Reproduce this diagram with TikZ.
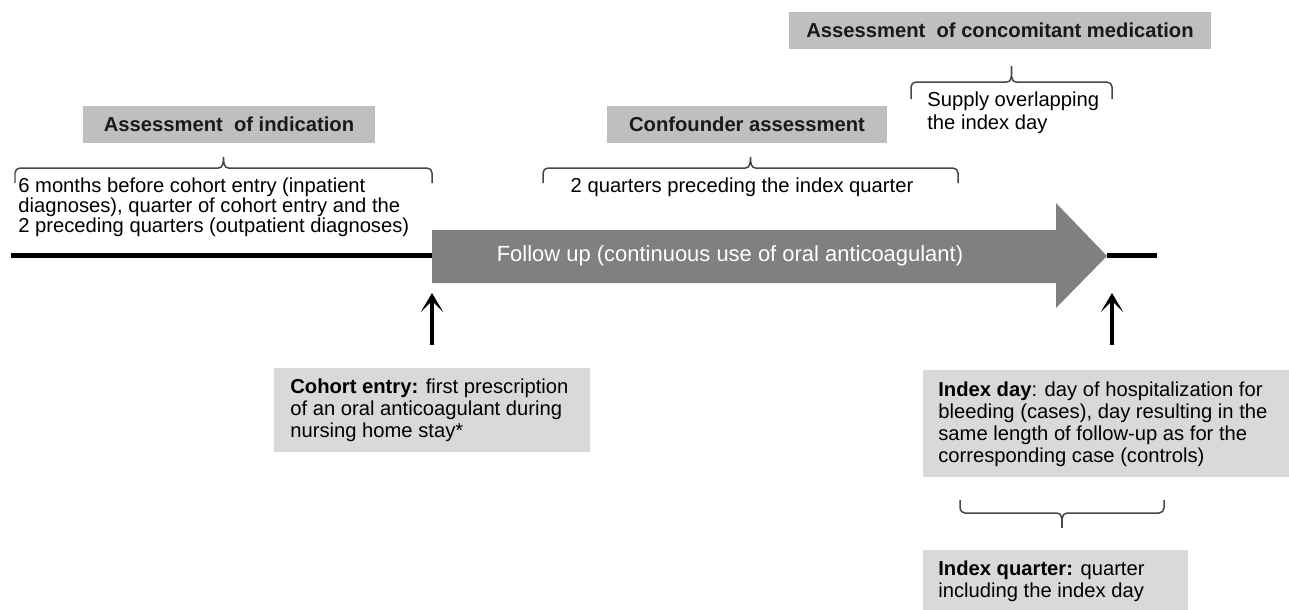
\documentclass[tikz,border=0pt]{standalone}
\usepackage{fontspec}
\setmainfont{Liberation Sans}
\usetikzlibrary{arrows.meta}

\definecolor{headgray}{RGB}{191,191,191}
\definecolor{notegray}{RGB}{217,217,217}
\definecolor{arrowgray}{RGB}{128,128,128}
\definecolor{bracegray}{RGB}{70,70,70}

\tikzset{
  every node/.style={font=\fontsize{11.5}{12.5}\selectfont},
  headbox/.style={fill=headgray, text=black!90, minimum height=0.74cm,
    font=\bfseries\fontsize{11.5}{12.5}\selectfont},
  notebox/.style={fill=notegray, anchor=north west, inner sep=0pt},
  plaintext/.style={align=left, inner sep=0pt},
  timeline/.style={line width=0.1cm, black},
  uparrow/.style={-{Stealth[length=11pt,width=13pt,inset=6.5pt]}, line width=0.08cm},
  % curly bracket: width, bar height, tip height
  pics/curly/.style n args={3}{code={
    \draw[bracegray, line width=0.85pt] (0,0) -- (0,{#2-5}) to[out=90,in=180] (5,#2)
      -- ({#1/2-5},#2) to[out=0,in=-90] ({#1/2},#3) to[out=-90,in=180] ({#1/2+5},#2)
      -- ({#1-5},#2) to[out=0,in=90] (#1,{#2-5}) -- (#1,0);
  }},
}

\begin{document}
\begin{tikzpicture}[x=0.02cm, y=0.02cm]
      \useasboundingbox (0,0) rectangle (1289,-609);

      % time line and follow-up arrow
      \draw[timeline] (11,-255) -- (432,-255);
      \draw[timeline] (1107,-255) -- (1157,-255);
      \fill[arrowgray] (432,-230) -- (1056,-230) -- (1056,-203) -- (1107,-256)
                       -- (1056,-308) -- (1056,-283) -- (432,-283) -- cycle;
      \node[text=white, font=\fontsize{12.5}{14}\selectfont] (followup) at (730,-256)
            {Follow up (continuous use of oral anticoagulant)};

      % assessment windows
      \node[headbox, minimum width=5.84cm] (indication) at (229,-124) {Assessment\ \ of indication};
      \node[headbox, minimum width=5.62cm] (confounder) at (747,-124) {Confounder assessment};
      \node[headbox, minimum width=8.44cm] (concomitant) at (1000,-30) {Assessment\ \ of concomitant medication};

      \coordinate (indL) at (15,-183);
      \coordinate (conL) at (543,-183);
      \coordinate (medL) at (911,-99);
      \pic at (indL) {curly={417}{15}{26}};
      \pic at (conL) {curly={415}{15}{26}};
      \pic at (medL) {curly={201}{17}{33}};

      \node[plaintext, anchor=west, font=\fontsize{11.5}{11.4}\selectfont] (indtext) at (18,-207)
            {6 months before cohort entry (inpatient\\diagnoses), quarter of cohort entry and the\\2 preceding quarters (outpatient diagnoses)};
      \node[plaintext] (context) at (742,-187) {2 quarters preceding the index quarter};
      \node[plaintext, anchor=west, font=\fontsize{11.5}{13}\selectfont] (medtext) at (927,-113)
            {Supply overlapping\\the index day};

      % cohort entry and index day
      \coordinate (entrytip) at (432,-293);  \coordinate (entryfoot) at (432,-345);
      \coordinate (indextip) at (1112,-293); \coordinate (indexfoot) at (1112,-345);
      \draw[uparrow] (entryfoot) -- (entrytip);
      \draw[uparrow] (indexfoot) -- (indextip);

      \node[notebox, minimum width=6.32cm, minimum height=1.68cm] (entry) at (274,-368) {};
      \node[plaintext, anchor=west] (entrytext) at ([xshift=0.32cm]entry.west)
            {\textbf{Cohort entry:} first prescription\\of an oral anticoagulant during\\nursing home stay*};
      \node[notebox, minimum width=7.4cm, minimum height=2.14cm] (indexday) at (923,-370) {};
      \node[plaintext, anchor=west] (indexdaytext) at ([xshift=0.3cm]indexday.west)
            {\textbf{Index day}: day of hospitalization for\\bleeding (cases), day resulting in the\\same length of follow-up as for the\\corresponding case (controls)};

      % index quarter
      \coordinate (qtrL) at (960,-500);
      \pic[yscale=-1] at (qtrL) {curly={204}{13}{28}};
      \node[notebox, minimum width=5.3cm, minimum height=1.24cm] (quarter) at (923,-550) {};
      \node[plaintext, anchor=west] (quartertext) at ([xshift=0.3cm]quarter.west)
            {\textbf{Index quarter:} quarter\\including the index day};
\end{tikzpicture}
\end{document}
